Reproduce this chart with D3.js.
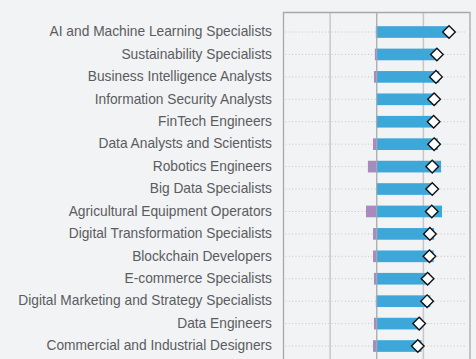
<!DOCTYPE html>
<html><head><meta charset="utf-8">
<script src="https://cdn.jsdelivr.net/npm/d3@7"></script>
<style>
html,body{margin:0;padding:0;background:#f2f3f5;overflow:hidden;}
svg{display:block;}
</style></head>
<body>
<script>
const categories = [
  "AI and Machine Learning Specialists",
  "Sustainability Specialists",
  "Business Intelligence Analysts",
  "Information Security Analysts",
  "FinTech Engineers",
  "Data Analysts and Scientists",
  "Robotics Engineers",
  "Big Data Specialists",
  "Agricultural Equipment Operators",
  "Digital Transformation Specialists",
  "Blockchain Developers",
  "E-commerce Specialists",
  "Digital Marketing and Strategy Specialists",
  "Data Engineers",
  "Commercial and Industrial Designers"
];
const growth = [1.57, 1.32, 1.34, 1.28, 1.23, 1.31, 1.38, 1.21, 1.40, 1.23, 1.22, 1.14, 1.15, 0.96, 0.96];
const decline = [-0.02, -0.04, -0.06, -0.01, -0.01, -0.08, -0.19, -0.01, -0.23, -0.08, -0.08, -0.06, -0.02, -0.06, -0.08];
const net = [1.55, 1.29, 1.27, 1.23, 1.22, 1.23, 1.19, 1.19, 1.18, 1.14, 1.13, 1.09, 1.08, 0.91, 0.88];
const xTicks = [-1, 0, 1];

const W = 476, H = 359;
const plotL = 283.5, plotR = 470, plotT = 12.5, plotB = 380;
const svg = d3.select("body").append("svg").attr("width", W).attr("height", H);

const x = d3.scaleLinear().domain([-2, 2]).range([plotL, plotR]);
const y = d3.scaleBand().domain(categories).range([20.8, 20.8 + 15 * 22.43]).paddingInner(0.48).paddingOuter(0.24);

// dotted row lines
svg.append("g").selectAll("line").data(categories).join("line")
  .attr("x1", plotL + 2).attr("x2", plotR - 3)
  .attr("y1", d => y(d) + y.bandwidth() / 2).attr("y2", d => y(d) + y.bandwidth() / 2)
  .attr("stroke", "#c4c6c9").attr("stroke-width", 1).attr("stroke-dasharray", "1,2.3");

// vertical gridlines
svg.append("g").selectAll("line").data(xTicks).join("line")
  .attr("x1", d => x(d)).attr("x2", d => x(d))
  .attr("y1", plotT).attr("y2", plotB)
  .attr("stroke", d => d === 0 ? "#b4b5b8" : "#c6c7ca")
  .attr("stroke-width", d => d === 0 ? 1 : 1.5);

// bars
const bh = y.bandwidth();
svg.append("g").selectAll("rect").data(categories).join("rect")
  .attr("x", (d, i) => x(0)).attr("width", (d, i) => x(growth[i]) - x(0))
  .attr("y", d => y(d)).attr("height", bh).attr("fill", "#3da7d9");
svg.append("g").selectAll("rect").data(categories).join("rect")
  .attr("x", (d, i) => x(decline[i])).attr("width", (d, i) => x(0) - x(decline[i]))
  .attr("y", d => y(d)).attr("height", bh).attr("fill", "#a78bbc");

// zero line on top
svg.append("line").attr("x1", x(0)).attr("x2", x(0)).attr("y1", plotT).attr("y2", plotB)
  .attr("stroke", "#a9aaad").attr("stroke-width", 1);

// diamonds
const ds = 6.3;
svg.append("g").selectAll("path").data(categories).join("path")
  .attr("transform", (d, i) => `translate(${x(net[i])},${y(d) + bh / 2})`)
  .attr("d", `M0,${-ds}L${ds},0L0,${ds}L${-ds},0Z`)
  .attr("fill", "#ffffff").attr("stroke", "#111").attr("stroke-width", 1.4);

// plot frame
svg.append("path")
  .attr("d", `M${plotL},${plotB}V${plotT}H${plotR}V${plotB}`)
  .attr("fill", "none").attr("stroke", "#a7a8ab").attr("stroke-width", 1.3);

// labels
svg.append("g").selectAll("text").data(categories).join("text")
  .attr("x", 272).attr("y", d => y(d) + bh / 2 - 0.5)
  .attr("dy", "0.35em").attr("text-anchor", "end")
  .attr("font-family", "Liberation Sans, Arial, sans-serif").attr("font-size", 13.75)
  .attr("fill", "#5a5c60").text(d => d);
</script>
</body></html>
